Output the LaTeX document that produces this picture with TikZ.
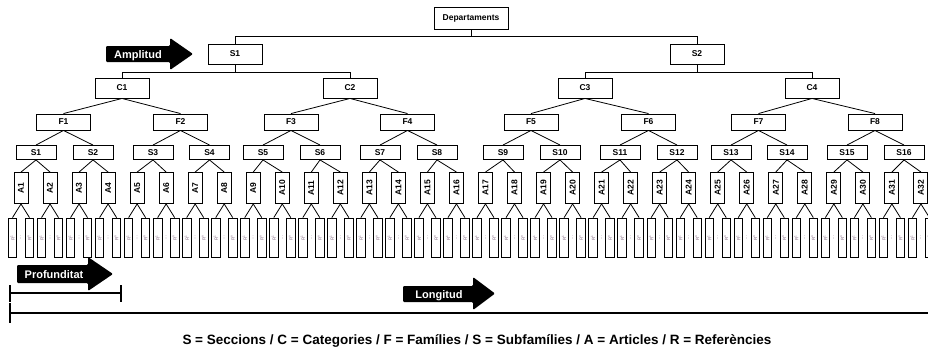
\documentclass[tikz,border=0pt]{standalone}
\usepackage{fontspec}
\setmainfont{Liberation Sans}
\begin{document}
\begin{tikzpicture}[x=1pt,y=-1pt,
  box/.style={draw=black, line width=0.9pt, fill=white, inner sep=0pt,
              font=\bfseries\fontsize{8.5}{9}\selectfont},
  depbox/.style={box, minimum width=74pt, minimum height=22pt},
  secbox/.style={box, minimum width=54pt, minimum height=20pt},
  catbox/.style={box, minimum width=54pt, minimum height=20pt},
  fambox/.style={box, minimum width=54pt, minimum height=16pt},
  subbox/.style={box, minimum width=40pt, minimum height=14pt},
  artbox/.style={box, minimum width=14pt, minimum height=31pt},
  refbox/.style={draw=black, line width=0.8pt, fill=white, inner sep=0pt,
                 minimum width=8.5pt, minimum height=39pt,
                 text=gray!80!violet, font=\fontsize{4.5}{5}\selectfont},
  dotmark/.style={inner sep=0pt, text=gray!80!violet, font=\fontsize{4.5}{5}\selectfont},
  link/.style={draw=black, line width=0.8pt},
  arrowshape/.style={fill=black, rounded corners=1.2pt},
  arrowtext/.style={text=white, font=\bfseries\fontsize{11}{12}\selectfont,
                    inner sep=0pt, anchor=base},
  bracket/.style={draw=black, line width=1.6pt},
]
\useasboundingbox (0,0) rectangle (928,349);

% ---------- tree nodes ----------
\node[depbox] (dep) at (471,18) {Departaments};

\foreach \x [count=\i] in {235,697}
  \node[secbox] (sec\i) at (\x,54) {S\i};

\foreach \x [count=\i] in {122,350,585,812}
  \node[catbox] (cat\i) at (\x,88) {C\i};

\foreach \x [count=\i] in {63.5,180.5,291,407.5,531,648.5,758.5,875}
  \node[fambox] (fam\i) at (\x,122) {F\i};

\foreach \x [count=\i] in {36,93,153,209.5,263,320,380,437,503,560,620,677,731,787,847,904}
  \node[subbox] (sub\i) at (\x,152.5) {S\i};

\foreach \i in {1,...,32} {
  \pgfmathsetmacro\ax{21+(\i-1)*29.03}
  \node[artbox] (art\i) at (\ax,188) {\rotatebox{90}{A\i}};
  \node[refbox] (refL\i) at (\ax-8.5,237.5) {\rotatebox{90}{R\textsuperscript{1}}};
  \node[refbox] (refR\i) at (\ax+8.5,237.5) {\rotatebox{90}{R\textsuperscript{n}}};
  \node[dotmark] (dots\i) at (\ax,237.5) {\rotatebox{90}{...}};
}

% ---------- connectors ----------
\coordinate (j0) at (471,36);
\draw[link] (dep.south) -- (j0) -| (sec1.north);
\draw[link] (j0) -| (sec2.north);

\coordinate (j1) at (235,72);
\coordinate (j2) at (697,72);
\draw[link] (sec1.south) -- (j1) -| (cat1.north);
\draw[link] (j1) -| (cat2.north);
\draw[link] (sec2.south) -- (j2) -| (cat3.north);
\draw[link] (j2) -| (cat4.north);

\foreach \c in {1,...,4} {
  \pgfmathtruncatemacro\fa{2*\c-1}
  \pgfmathtruncatemacro\fb{2*\c}
  \draw[link] (cat\c.south) -- (fam\fa.north);
  \draw[link] (cat\c.south) -- (fam\fb.north);
}
\foreach \f in {1,...,8} {
  \pgfmathtruncatemacro\sa{2*\f-1}
  \pgfmathtruncatemacro\sb{2*\f}
  \draw[link] (fam\f.south) -- (sub\sa.north);
  \draw[link] (fam\f.south) -- (sub\sb.north);
}
\foreach \s in {1,...,16} {
  \pgfmathtruncatemacro\aa{2*\s-1}
  \pgfmathtruncatemacro\ab{2*\s}
  \draw[link] (sub\s.south) -- (art\aa.north);
  \draw[link] (sub\s.south) -- (art\ab.north);
}
\foreach \i in {1,...,32} {
  \draw[link] (art\i.south) -- (refL\i.north);
  \draw[link] (art\i.south) -- (refR\i.north);
}

% ---------- direction arrows ----------
\path[arrowshape] (106,46) -- (170,46) -- (170,38) -- (193,54) -- (170,70) -- (170,62) -- (106,62) -- cycle;
\node[arrowtext] (amplitud) at (138,58) {Amplitud};

\path[arrowshape] (17,265) -- (88,265) -- (88,257) -- (113,274) -- (88,291) -- (88,283) -- (17,283) -- cycle;
\node[arrowtext] (profunditat) at (54,278) {Profunditat};

\path[arrowshape] (403,286) -- (473,286) -- (473,277) -- (495,293.5) -- (473,310) -- (473,302) -- (403,302) -- cycle;
\node[arrowtext] (longitud) at (439,298) {Longitud};

% ---------- depth and length brackets ----------
\draw[bracket] (10,293) -- (121,293);
\draw[bracket] (10,285) -- (10,302);
\draw[bracket] (121,285) -- (121,302);

\draw[bracket] (10,313) -- (928,313);
\draw[bracket] (10,303) -- (10,323);

% ---------- legend ----------
\node[font=\bfseries\fontsize{13.5}{14}\selectfont, inner sep=0pt, anchor=base] (legend) at (477,344)
  {S = Seccions / C = Categories / F = Famílies / S = Subfamílies / A = Articles / R = Referències};
\end{tikzpicture}
\end{document}
